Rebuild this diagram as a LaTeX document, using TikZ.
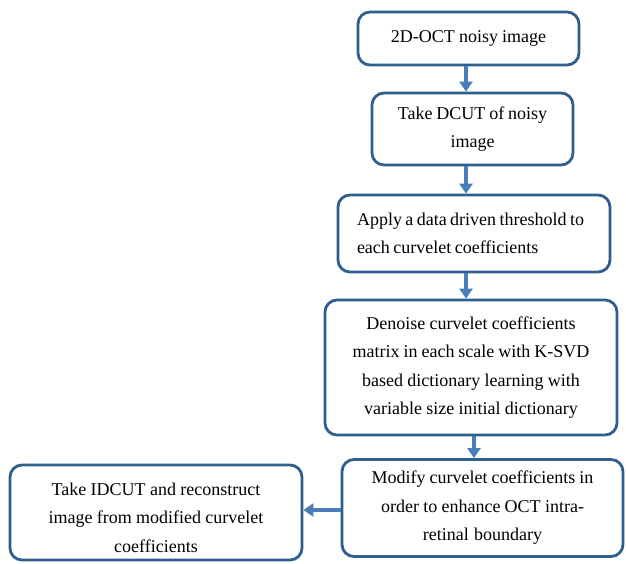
\documentclass[tikz,border=0pt]{standalone}
\usepackage{fontspec}
\setmainfont{Liberation Serif}
\usetikzlibrary{arrows.meta}
\definecolor{boxline}{HTML}{2F5F8F}
\definecolor{arrowc}{HTML}{4A7EBB}
\newcommand\bxtight{\spaceskip=0.19em plus 0.05em minus 0.05em\relax}
\tikzset{
  stepbox/.style={draw=boxline, line width=2.8pt, rounded corners=12pt, fill=white,
    align=center, inner sep=0pt, font=\fontsize{18}{28.5}\selectfont,
    execute at begin node=\bxtight},
  arr/.style={draw=arrowc, line width=4pt, -{Triangle[width=13pt,length=10pt]}}
}
\begin{document}
\begin{tikzpicture}[x=1pt,y=-1pt]
\useasboundingbox (0,0) rectangle (626,563);
\node[stepbox, minimum width=221pt, minimum height=53pt, text width=210pt] (b1) at (468.5,38.5) {2D-OCT noisy image};
\node[stepbox, minimum width=201pt, minimum height=72pt, text width=190pt] (b2) at (472.5,129) {Take DCUT of noisy\\image};
\node[stepbox, align=left, minimum width=272pt, minimum height=77pt, text width=234pt, inner xsep=19pt] (b3) at (474,233.5) {Apply a data driven threshold to\\each curvelet coefficients};
\node[stepbox, minimum width=292pt, minimum height=135pt, text width=280pt] (b4) at (471,367.5) {Denoise curvelet coefficients\\matrix in each scale with K-SVD\\based dictionary learning with\\variable size initial dictionary};
\node[stepbox, minimum width=281pt, minimum height=97pt, text width=270pt] (b5) at (482.5,508) {Modify curvelet coefficients in\\order to enhance OCT intra-\\retinal boundary};
\node[stepbox, minimum width=292pt, minimum height=95pt, text width=280pt] (b6) at (156,512.5) {\rule{0pt}{23pt}Take IDCUT and reconstruct\\image from modified curvelet\\coefficients};
\coordinate (x1) at (466,0);
\coordinate (x4) at (474,0);
\coordinate (y5) at (0,510);
\draw[arr] (b1.south -| x1) -- (b2.north -| x1);
\draw[arr] (b2.south -| x1) -- (b3.north -| x1);
\draw[arr] (b3.south -| x1) -- (b4.north -| x1);
\draw[arr] (b4.south -| x4) -- (b5.north -| x4);
\draw[arr] (b5.west |- y5) -- (b6.east |- y5);
\end{tikzpicture}
\end{document}
